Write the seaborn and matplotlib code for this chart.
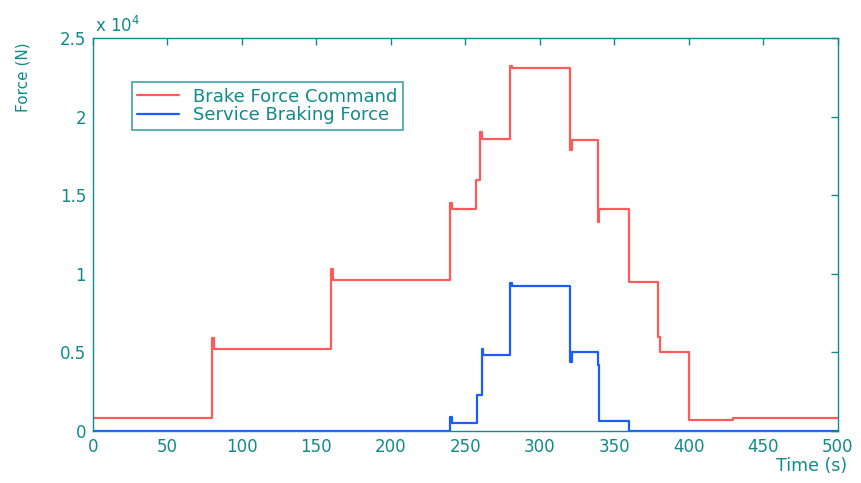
import matplotlib
matplotlib.use("Agg")
import matplotlib.pyplot as plt
from matplotlib.ticker import FuncFormatter
import pandas as pd
import seaborn as sns

# Brake force command (N): step breakpoints, held until the next time
command_time = [0, 80, 81, 160, 161, 240, 241, 257, 260, 261, 280, 281,
                320, 321.5, 339, 340, 360, 379, 381, 400, 430, 500]
command_force = [800, 5900, 5200, 10300, 9600, 14500, 14100, 16000, 19000, 18600,
                 23200, 23100, 17900, 18500, 13300, 14100, 9500, 6000, 5000,
                 700, 800, 800]

# Service braking force (N)
service_time = [0, 240, 241, 258, 261, 262, 280, 281, 320, 321.5, 339, 340, 360, 500]
service_force = [0, 900, 500, 2300, 5200, 4850, 9400, 9250, 4400, 5000, 4200, 600, 0, 0]

x_ticks = [0, 50, 100, 150, 200, 250, 300, 350, 400, 450, 500]
y_ticks = [0, 5000, 10000, 15000, 20000, 25000]

TEAL = "#108a8a"
RED = "#ff5a5a"
BLUE = "#1a5cff"

sns.set_style("white")
plt.rcParams["font.family"] = ["DejaVu Sans"]

fig = plt.figure(figsize=(8.61, 4.83), dpi=100)
ax = fig.add_axes([0.108, 0.108, 0.865, 0.813])

cmd = pd.DataFrame({"t": command_time, "f": command_force})
svc = pd.DataFrame({"t": service_time, "f": service_force})

sns.lineplot(data=cmd, x="t", y="f", ax=ax, color=RED, lw=1.6,
             drawstyle="steps-post", estimator=None, sort=False,
             label="Brake Force Command")
sns.lineplot(data=svc, x="t", y="f", ax=ax, color=BLUE, lw=1.6,
             drawstyle="steps-post", estimator=None, sort=False,
             label="Service Braking Force")

ax.set_xlim(0, 500)
ax.set_ylim(0, 25000)
ax.set_xticks(x_ticks)
ax.set_yticks(y_ticks)
ax.yaxis.set_major_formatter(FuncFormatter(lambda v, p: f"{v / 1e4:g}"))
ax.tick_params(direction="in", length=5, width=1, colors=TEAL,
               labelsize=12, top=True, right=True, pad=5)
for s in ax.spines.values():
    s.set_color(TEAL)
    s.set_linewidth(1.0)

ax.set_xlabel("")
ax.set_ylabel("")
fig.text(0.984, 0.024, "Time (s)", ha="right", va="baseline", color=TEAL,
         fontsize=12.5)
fig.text(0.027, 0.913, "Force (N)", ha="center", va="top", rotation=90,
         color=TEAL, fontsize=11)
ax.text(0.003, 1.015, r"x 10$^4$", transform=ax.transAxes, ha="left",
        va="baseline", color=TEAL, fontsize=12)

leg = ax.legend(loc="upper left", bbox_to_anchor=(0.052, 0.888), frameon=True,
                fancybox=False, fontsize=13, handlelength=2.3, borderpad=0.3,
                labelspacing=0.05, handletextpad=0.8, borderaxespad=0)
leg.get_frame().set_edgecolor(TEAL)
leg.get_frame().set_linewidth(1.2)
for t in leg.get_texts():
    t.set_color(TEAL)

fig.savefig("out.png", dpi=100)
